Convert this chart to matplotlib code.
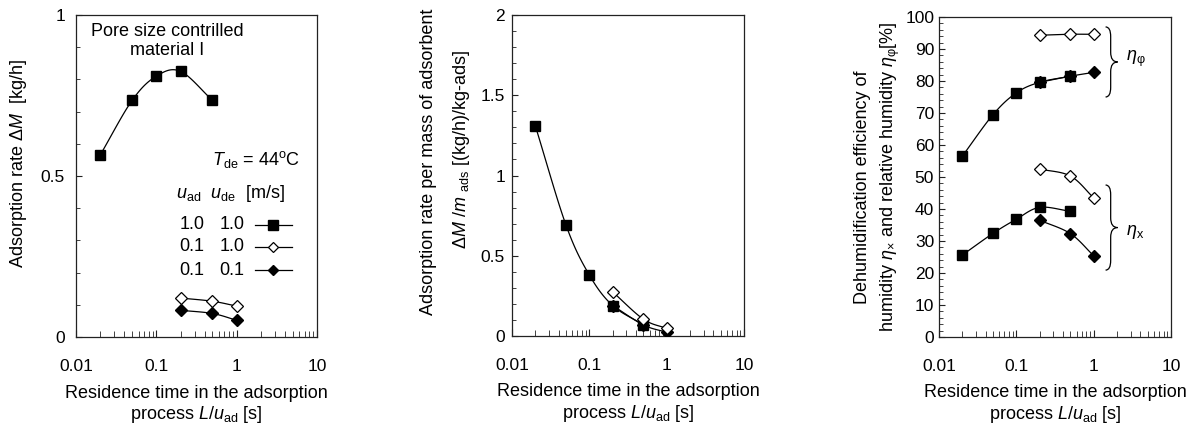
import numpy as np
import matplotlib
matplotlib.use('Agg')
import matplotlib.pyplot as plt
from matplotlib.lines import Line2D
from matplotlib.path import Path
from matplotlib.patches import PathPatch
from matplotlib.ticker import LogLocator, MultipleLocator, FixedFormatter, FixedLocator
import matplotlib.transforms as mtrans

plt.rcParams['font.family'] = ['Liberation Sans', 'DejaVu Sans']
plt.rcParams['mathtext.fontset'] = 'custom'
plt.rcParams['mathtext.rm'] = 'Liberation Sans'
plt.rcParams['mathtext.it'] = 'Liberation Sans:italic'
plt.rcParams['mathtext.default'] = 'regular'

FS = 13
TICK_FS = 12.5

# residence time L/u_ad [s]
t_sq = [0.02, 0.05, 0.1, 0.2, 0.5]
t_dia = [0.2, 0.5, 1.0]

# panel 1: adsorption rate dM [kg/h]
p1_sq = [0.565, 0.735, 0.81, 0.825, 0.735]
p1_open = [0.121, 0.111, 0.096]
p1_fill = [0.083, 0.073, 0.052]

# panel 2: dM / m_ads [(kg/h)/kg-ads]
p2_sq = [1.31, 0.69, 0.38, 0.19, 0.07]
p2_open = [0.275, 0.105, 0.047]
p2_fill = [0.19, 0.069, 0.023]

# panel 3: efficiency [%], eta_phi (upper) and eta_x (lower)
p3_phi_sq = [56.5, 69.5, 76.3, 79.6, 81.5]
p3_phi_open = [94.3, 94.6, 94.6]
p3_phi_fill = [79.6, 81.5, 82.7]
p3_x_sq = [25.6, 32.4, 36.8, 40.5, 39.3]
p3_x_open = [52.5, 50.3, 43.5]
p3_x_fill = [36.5, 32.3, 25.4]


def smooth(x, y, n=24):
    # catmull-rom through the points, in log-x space
    lx = np.log10(np.asarray(x, float))
    y = np.asarray(y, float)
    if len(lx) < 3:
        return np.asarray(x), y
    px = np.concatenate([[2 * lx[0] - lx[1]], lx, [2 * lx[-1] - lx[-2]]])
    py = np.concatenate([[2 * y[0] - y[1]], y, [2 * y[-1] - y[-2]]])
    xs, ys = [], []
    t = np.linspace(0, 1, n)
    for i in range(1, len(px) - 2):
        for arr, out in ((px, xs), (py, ys)):
            p0, p1, p2, p3 = arr[i - 1:i + 3]
            out.append(0.5 * ((2 * p1) + (-p0 + p2) * t
                              + (2 * p0 - 5 * p1 + 4 * p2 - p3) * t ** 2
                              + (-p0 + 3 * p1 - 3 * p2 + p3) * t ** 3))
    return 10 ** np.concatenate(xs), np.concatenate(ys)


def series(ax, x, y, kind):
    sx, sy = smooth(x, y)
    ax.plot(sx, sy, color='black', lw=0.9, zorder=2)
    if kind == 'sq':
        ax.plot(x, y, ls='none', marker='s', ms=7.8, mfc='black', mec='black', zorder=3)
    elif kind == 'open':
        ax.plot(x, y, ls='none', marker='D', ms=6.3, mfc='white', mec='black', mew=0.9, zorder=4)
    else:
        ax.plot(x, y, ls='none', marker='D', ms=6.3, mfc='black', mec='black', zorder=3)


def style(ax, ymax, major, minor, fmt, ypad):
    ax.set_xscale('log')
    ax.set_xlim(0.01, 10)
    ax.set_ylim(0, ymax)
    ax.xaxis.set_major_locator(FixedLocator([0.01, 0.1, 1, 10]))
    ax.xaxis.set_major_formatter(FixedFormatter(['0.01', '0.1', '1', '10']))
    ax.xaxis.set_minor_locator(LogLocator(base=10, subs=np.arange(2, 10)))
    ax.xaxis.set_minor_formatter(plt.NullFormatter())
    ax.yaxis.set_major_locator(MultipleLocator(major))
    ax.yaxis.set_minor_locator(MultipleLocator(minor))
    ax.yaxis.set_major_formatter(plt.FuncFormatter(fmt))
    ax.tick_params(which='both', direction='in', labelsize=TICK_FS, color='#222222')
    ax.tick_params(axis='x', which='major', length=5, pad=16)
    ax.tick_params(axis='x', which='minor', length=4)
    ax.tick_params(axis='y', which='major', length=4, pad=ypad)
    ax.tick_params(axis='y', which='minor', length=3)
    for s in ax.spines.values():
        s.set_linewidth(0.9)
        s.set_color('#222222')
    ax.text(0.5, -0.174, 'Residence time in the adsorption', transform=ax.transAxes,
            ha='center', va='center', fontsize=FS)
    ax.text(0.5, -0.242, r'process $\it{L/u}$$_{\rm ad}$ [s]', transform=ax.transAxes,
            ha='center', va='center', fontsize=FS)


def brace(ax, x0, xm, xt, y0, y1, r):
    tr = mtrans.blended_transform_factory(ax.transAxes, ax.transData)
    ym = (y0 + y1) / 2
    verts = [(x0, y0), (xm, y0), (xm, y0 - r), (xm, ym + r), (xm, ym), (xt, ym),
             (xm, ym), (xm, ym - r), (xm, y1 + r), (xm, y1), (x0, y1)]
    codes = [Path.MOVETO, Path.CURVE3, Path.CURVE3, Path.LINETO, Path.CURVE3, Path.CURVE3,
             Path.CURVE3, Path.CURVE3, Path.LINETO, Path.CURVE3, Path.CURVE3]
    ax.add_patch(PathPatch(Path(verts, codes), transform=tr, fill=False, lw=0.9,
                           edgecolor='black', clip_on=False))
    return ym


fig = plt.figure(figsize=(11.88, 4.33), dpi=100)
W, H = 1188, 433


def axes_px(l, r, t, b):
    return fig.add_axes([l / W, 1 - b / H, (r - l) / W, (b - t) / H])


ax1 = axes_px(76, 317, 15, 337)
ax2 = axes_px(512, 744, 15, 336)
ax3 = axes_px(939, 1171, 17, 337)

# panel 1
style(ax1, 1, 0.5, 0.1, lambda v, p: '0' if v == 0 else ('1' if v == 1 else f'{v:g}'), 8)
series(ax1, t_sq, p1_sq, 'sq')
series(ax1, t_dia, p1_open, 'open')
series(ax1, t_dia, p1_fill, 'fill')
ax1.text(0.379, 0.919, 'Pore size contrilled\nmaterial I', transform=ax1.transAxes,
         ha='center', va='center', fontsize=FS, linespacing=1.15)
ax1.text(0.5625, 0.55, r'$\it{T}$$_{\rm de}$ = 44$^{\rm o}$C', transform=ax1.transAxes,
         ha='left', va='center', fontsize=FS)
ax1.text(0.417, 0.447, r'$\it{u}$$_{\rm ad}$  $\it{u}$$_{\rm de}$  [m/s]', transform=ax1.transAxes,
         ha='left', va='center', fontsize=FS)
leg_rows = [('1.0', '1.0', 'sq'), ('0.1', '1.0', 'open'), ('0.1', '0.1', 'fill')]
for (a, b, k), yy in zip(leg_rows, [0.348, 0.280, 0.208]):
    ax1.text(0.429, yy, a, transform=ax1.transAxes, ha='left', va='center', fontsize=FS)
    ax1.text(0.596, yy, b, transform=ax1.transAxes, ha='left', va='center', fontsize=FS)
    ax1.add_line(Line2D([0.742, 0.896], [yy, yy], transform=ax1.transAxes, color='black', lw=0.9))
    if k == 'sq':
        kw = dict(marker='s', ms=6.5, mfc='black', mec='black')
    elif k == 'open':
        kw = dict(marker='D', ms=5.5, mfc='white', mec='black', mew=0.9)
    else:
        kw = dict(marker='D', ms=5.5, mfc='black', mec='black')
    ax1.add_line(Line2D([0.817], [yy], transform=ax1.transAxes, ls='none', **kw))
ax1.text(-0.24, 0.54, r'Adsorption rate $\it{ΔM}$  [kg/h]', transform=ax1.transAxes,
         rotation=90, ha='center', va='center', fontsize=FS)

# panel 2
style(ax2, 2, 0.5, 0.1, lambda v, p: f'{v:g}', 5)
series(ax2, t_sq, p2_sq, 'sq')
series(ax2, t_dia, p2_open, 'open')
series(ax2, t_dia, p2_fill, 'fill')
ax2.text(-0.362, 0.542, 'Adsorption rate per mass of adsorbent', transform=ax2.transAxes,
         rotation=90, ha='center', va='center', fontsize=FS)
ax2.text(-0.216, 0.58, r'$\it{ΔM}$ /$\it{m}$ $_{\rm ads}$ [(kg/h)/kg-ads]', transform=ax2.transAxes,
         rotation=90, ha='center', va='center', fontsize=FS)

# panel 3
style(ax3, 100, 10, 2, lambda v, p: f'{v:g}', 3.5)
series(ax3, t_sq, p3_phi_sq, 'sq')
series(ax3, t_dia, p3_phi_open, 'open')
series(ax3, t_dia, p3_phi_fill, 'fill')
series(ax3, t_sq, p3_x_sq, 'sq')
series(ax3, t_dia, p3_x_open, 'open')
series(ax3, t_dia, p3_x_fill, 'fill')
blend = mtrans.blended_transform_factory(ax3.transAxes, ax3.transData)
ym = brace(ax3, 0.718, 0.74, 0.77, 96.9, 75.0, 3.0)
ax3.text(0.805, ym + 1, r'$\it{η}$$_{\rm φ}$', transform=blend,
         ha='left', va='center', fontsize=FS)
ym = brace(ax3, 0.718, 0.74, 0.77, 47.5, 20.9, 3.0)
ax3.text(0.805, ym - 1.5, r'$\it{η}$$_{\rm x}$', transform=blend,
         ha='left', va='center', fontsize=FS)
ax3.text(-0.328, 0.469, 'Dehumidification efficiency of', transform=ax3.transAxes,
         rotation=90, ha='center', va='center', fontsize=FS)
ax3.text(-0.211, 0.5, r'humidity $\it{η}$$_{\rm ×}$ and relative humidity $\it{η}$$_{\rm φ}$[%]',
         transform=ax3.transAxes, rotation=90, ha='center', va='center', fontsize=FS)

fig.savefig('out.png', dpi=100)
